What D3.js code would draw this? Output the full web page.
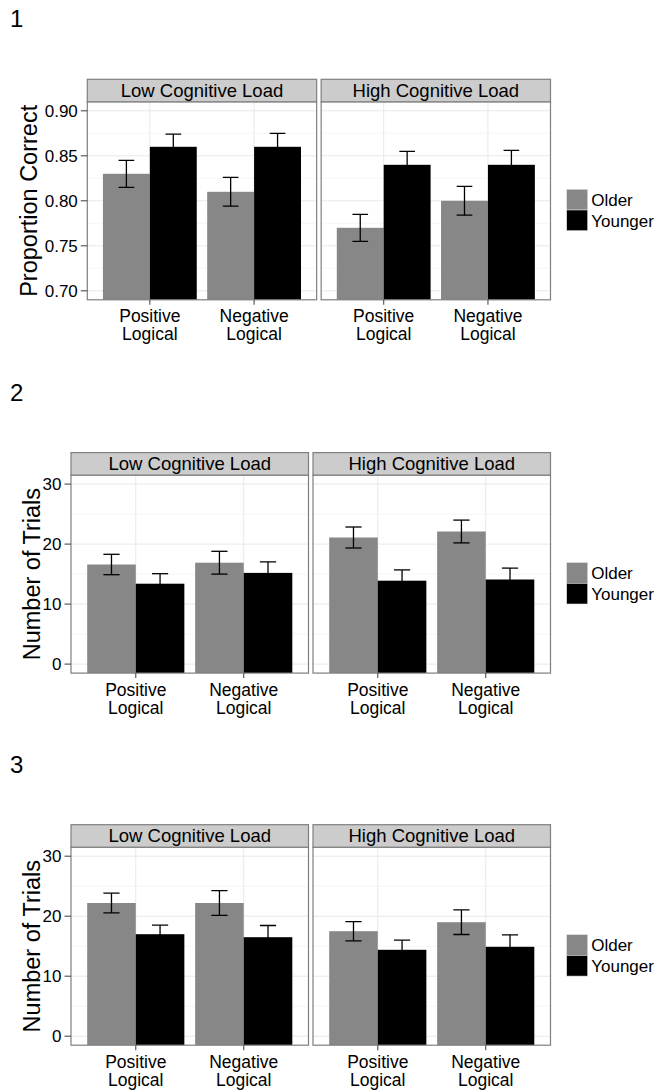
<!DOCTYPE html>
<html>
<head>
<meta charset="utf-8">
<script src="https://cdn.jsdelivr.net/npm/d3@7"></script>
<style>
  html, body { margin: 0; padding: 0; background: #fff; }
  svg { display: block; font-family: "Liberation Sans", Arial, Helvetica, sans-serif; }
</style>
</head>
<body>
<svg id="chart" width="660" height="1091"></svg>
<script>
// ---- data ----
const loads = ["Low Cognitive Load", "High Cognitive Load"];
const conditions = ["Positive Logical", "Negative Logical"];
const conditionLines = [["Positive", "Logical"], ["Negative", "Logical"]];
const groups = ["Older", "Younger"];

// values indexed [load][condition]
const propOlder      = [[0.83, 0.81], [0.77, 0.80]];
const propOlderSE    = [[0.015, 0.016], [0.015, 0.016]];
const propYounger    = [[0.86, 0.86], [0.84, 0.84]];
const propYoungerSE  = [[0.014, 0.015], [0.015, 0.016]];
const propTicks      = [0.70, 0.75, 0.80, 0.85, 0.90];

const trials2Older     = [[16.6, 16.9], [21.1, 22.1]];
const trials2OlderSE   = [[1.7, 1.9], [1.75, 1.9]];
const trials2Younger   = [[13.4, 15.2], [13.9, 14.1]];
const trials2YoungerSE = [[1.67, 1.85], [1.8, 1.9]];

const trials3Older     = [[22.2, 22.2], [17.5, 19.0]];
const trials3OlderSE   = [[1.65, 2.05], [1.6, 2.05]];
const trials3Younger   = [[17.0, 16.5], [14.4, 14.9]];
const trials3YoungerSE = [[1.5, 1.95], [1.6, 2.0]];
const trialTicks       = [0, 10, 20, 30];

const groupColors = { Older: "#878787", Younger: "#000000" };

// ---- layout ----
const svg = d3.select("#chart");
const FONT_TICK = 17, FONT_STRIP = 18.5, FONT_X = 17.5, FONT_TITLE = 23.5, FONT_NUM = 24, FONT_LEG = 17;
const plotRight = 550.5, panelGap = 4.5, stripH = 22.5, panelH = 198;

function buildRows(older, olderSE, younger, youngerSE) {
  const rows = [];
  loads.forEach((load, li) => conditions.forEach((cond, ci) => {
    rows.push({ load, cond, group: "Older", value: older[li][ci], se: olderSE[li][ci] });
    rows.push({ load, cond, group: "Younger", value: younger[li][ci], se: youngerSE[li][ci] });
  }));
  return rows;
}

function drawPlot(cfg) {
  const g = svg.append("g");
  const T = cfg.top;
  const panelTop = T + stripH, panelBottom = T + stripH + panelH;
  const panelW = (plotRight - cfg.left - panelGap) / 2;
  const rows = buildRows(...cfg.series);

  // panel number
  g.append("text").attr("x", 10).attr("y", T - 52)
    .attr("font-size", FONT_NUM).attr("fill", "#000").text(cfg.label);

  // y scale: limits widened by 5% of the range
  const span = cfg.ylim[1] - cfg.ylim[0];
  const y = d3.scaleLinear()
    .domain([cfg.ylim[0] - 0.05 * span, cfg.ylim[1] + 0.05 * span])
    .range([panelBottom, panelTop]);
  const step = cfg.ticks[1] - cfg.ticks[0];
  const minorTicks = d3.range(cfg.ticks[0] - step / 2, cfg.ticks[cfg.ticks.length - 1] + step, step)
    .filter(v => v > y.domain()[0] && v < y.domain()[1]);

  loads.forEach((load, li) => {
    const px = cfg.left + li * (panelW + panelGap);
    const x = d3.scalePoint().domain(conditions).range([px, px + panelW]).padding(0.6);
    const unit = x.step();
    const xg = d3.scaleBand().domain(groups).range([-0.45 * unit, 0.45 * unit]).padding(0);
    const pg = g.append("g");

    const clipId = `clip-${cfg.label}-${li}`;
    pg.append("clipPath").attr("id", clipId)
      .append("rect").attr("x", px).attr("y", panelTop).attr("width", panelW).attr("height", panelH);

    pg.append("rect").attr("x", px).attr("y", panelTop).attr("width", panelW).attr("height", panelH)
      .attr("fill", "#fff");

    // grid
    pg.selectAll(".minor").data(minorTicks).join("line")
      .attr("x1", px).attr("x2", px + panelW)
      .attr("y1", d => y(d)).attr("y2", d => y(d))
      .attr("stroke", "#f5f5f5").attr("stroke-width", 1);
    pg.selectAll(".major").data(cfg.ticks).join("line")
      .attr("x1", px).attr("x2", px + panelW)
      .attr("y1", d => y(d)).attr("y2", d => y(d))
      .attr("stroke", "#e8e8e8").attr("stroke-width", 1);
    pg.selectAll(".vmajor").data(conditions).join("line")
      .attr("x1", d => x(d)).attr("x2", d => x(d))
      .attr("y1", panelTop).attr("y2", panelBottom)
      .attr("stroke", "#e8e8e8").attr("stroke-width", 1);

    const pr = rows.filter(r => r.load === load);
    const marks = pg.append("g").attr("clip-path", `url(#${clipId})`);

    // bars
    marks.selectAll("rect.bar").data(pr).join("rect").attr("class", "bar")
      .attr("x", d => x(d.cond) + xg(d.group))
      .attr("width", xg.bandwidth())
      .attr("y", d => y(d.value))
      .attr("height", d => Math.max(0, y(Math.min(0, y.domain()[0])) - y(d.value)))
      .attr("fill", d => groupColors[d.group]);

    // error bars
    const capHalf = 0.075 * unit;
    const eb = marks.selectAll("g.eb").data(pr).join("g").attr("class", "eb")
      .attr("stroke", "#000").attr("stroke-width", 1.3).attr("fill", "none");
    eb.append("line")
      .attr("x1", d => x(d.cond) + xg(d.group) + xg.bandwidth() / 2)
      .attr("x2", d => x(d.cond) + xg(d.group) + xg.bandwidth() / 2)
      .attr("y1", d => y(d.value + d.se)).attr("y2", d => y(d.value - d.se));
    [1, -1].forEach(sgn => {
      eb.append("line")
        .attr("x1", d => x(d.cond) + xg(d.group) + xg.bandwidth() / 2 - capHalf)
        .attr("x2", d => x(d.cond) + xg(d.group) + xg.bandwidth() / 2 + capHalf)
        .attr("y1", d => y(d.value + sgn * d.se)).attr("y2", d => y(d.value + sgn * d.se));
    });

    // panel border
    pg.append("rect").attr("x", px).attr("y", panelTop).attr("width", panelW).attr("height", panelH)
      .attr("fill", "none").attr("stroke", "#7f7f7f").attr("stroke-width", 1.2);

    // strip
    pg.append("rect").attr("x", px).attr("y", T).attr("width", panelW).attr("height", stripH)
      .attr("fill", "#cccccc").attr("stroke", "#7f7f7f").attr("stroke-width", 1.2);
    pg.append("text").attr("x", px + panelW / 2).attr("y", T + stripH / 2 + 6.3)
      .attr("text-anchor", "middle").attr("font-size", FONT_STRIP).attr("fill", "#000").text(load);

    // x axis ticks + labels
    const xa = pg.append("g");
    xa.selectAll("line").data(conditions).join("line")
      .attr("x1", d => x(d)).attr("x2", d => x(d))
      .attr("y1", panelBottom).attr("y2", panelBottom + 5)
      .attr("stroke", "#4d4d4d").attr("stroke-width", 1.1);
    xa.selectAll("text").data(conditions).join("text")
      .attr("text-anchor", "middle").attr("font-size", FONT_X).attr("fill", "#000")
      .each(function (d, i) {
        const t = d3.select(this);
        conditionLines[i].forEach((ln, k) => {
          t.append("tspan").attr("x", x(d)).attr("y", panelBottom + 22.5 + k * 18).text(ln);
        });
      });

    // y axis on left panel
    if (li === 0) {
      const ya = pg.append("g");
      ya.selectAll("line").data(cfg.ticks).join("line")
        .attr("x1", px - 6.5).attr("x2", px)
        .attr("y1", d => y(d)).attr("y2", d => y(d))
        .attr("stroke", "#4d4d4d").attr("stroke-width", 1.1);
      ya.selectAll("text").data(cfg.ticks).join("text")
        .attr("x", px - 9.5).attr("y", d => y(d) + 6)
        .attr("text-anchor", "end").attr("font-size", FONT_TICK).attr("fill", "#000")
        .text(d => cfg.tickFormat(d));
    }
  });

  // y axis title
  g.append("text")
    .attr("transform", `translate(${cfg.titleX},${(panelTop + panelBottom) / 2}) rotate(-90)`)
    .attr("text-anchor", "middle").attr("font-size", FONT_TITLE).attr("fill", "#000")
    .text(cfg.yTitle);

  // legend
  const lg = g.append("g");
  const keyX = 566.7, keyW = 21, keyH = 20.7, keyTop = T + 110;
  groups.forEach((grp, i) => {
    lg.append("rect").attr("x", keyX).attr("y", keyTop + i * keyH).attr("width", keyW).attr("height", keyH)
      .attr("fill", groupColors[grp]).attr("stroke", "#dedede").attr("stroke-width", 0.6);
    lg.append("text").attr("x", keyX + keyW + 3.5).attr("y", keyTop + i * keyH + keyH / 2 + 6.2)
      .attr("font-size", FONT_LEG).attr("fill", "#000").text(grp);
  });
}

drawPlot({
  label: "1", top: 79.3, left: 87.3, titleX: 36.5,
  ylim: [0.70, 0.90], ticks: propTicks, tickFormat: d3.format(".2f"),
  yTitle: "Proportion Correct",
  series: [propOlder, propOlderSE, propYounger, propYoungerSE]
});
drawPlot({
  label: "2", top: 452.6, left: 71, titleX: 40,
  ylim: [0, 30], ticks: trialTicks, tickFormat: d3.format("d"),
  yTitle: "Number of Trials",
  series: [trials2Older, trials2OlderSE, trials2Younger, trials2YoungerSE]
});
drawPlot({
  label: "3", top: 824.7, left: 71, titleX: 40,
  ylim: [0, 30], ticks: trialTicks, tickFormat: d3.format("d"),
  yTitle: "Number of Trials",
  series: [trials3Older, trials3OlderSE, trials3Younger, trials3YoungerSE]
});
</script>
</body>
</html>
